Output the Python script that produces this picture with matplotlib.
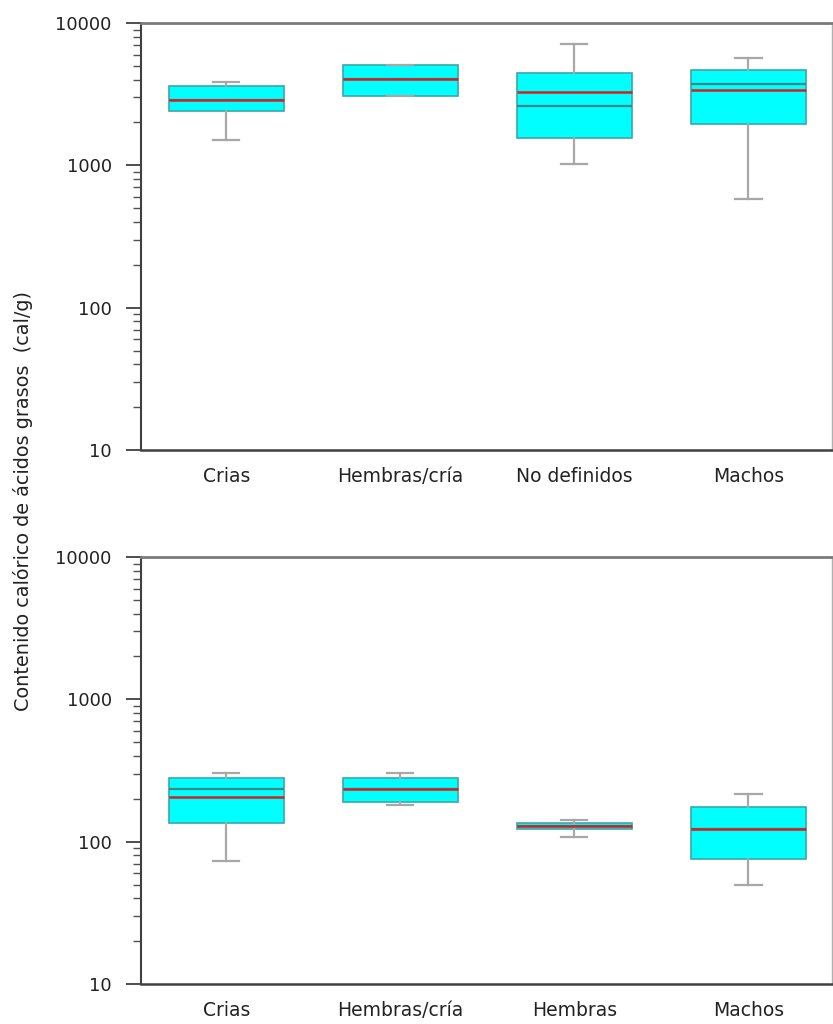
import matplotlib
matplotlib.use("Agg")
import matplotlib.pyplot as plt
from matplotlib.ticker import LogLocator, NullFormatter

plt.rcParams['font.family'] = ['DejaVu Sans']

# ---- data ----
cats_top = ["Crias", "Hembras/cría", "No definidos", "Machos"]
whislo_top = [1500, 3070, 1016, 577]
q1_top = [2420, 3070, 1548, 1940]
med_top = [2875, 4020, 2610, 3730]
mean_top = [2875, 4020, 3260, 3365]
q3_top = [3590, 5070, 4475, 4650]
whishi_top = [3870, 5070, 7080, 5680]

cats_bot = ["Crias", "Hembras/cría", "Hembras", "Machos"]
whislo_bot = [73.4, 181, 108, 49.8]
q1_bot = [135, 189, 122, 75.8]
med_bot = [234, 233, 129, 123]
mean_bot = [207, 233, 129, 123]
q3_bot = [279, 279, 136, 174]
whishi_bot = [305, 305, 141, 216]

yticks = [10, 100, 1000, 10000]
ytick_labels = ["10", "100", "1000", "10000"]
ylabel = "Contenido calórico de ácidos grasos  (cal/g)"

W, H = 833, 1024
fig = plt.figure(figsize=(W / 100, H / 100), dpi=100)

left, right = 141 / W, 832 / W
ax_top = fig.add_axes([left, 1 - 450 / H, right - left, (450 - 23) / H])
ax_bot = fig.add_axes([left, 1 - 984 / H, right - left, (984 - 557) / H])


def draw(ax, cats, wlo, q1, med, mean, q3, whi):
    stats = []
    for i in range(len(cats)):
        stats.append(dict(label=cats[i], whislo=wlo[i], q1=q1[i], med=med[i],
                          mean=mean[i], q3=q3[i], whishi=whi[i], fliers=[]))
    ax.bxp(stats, positions=range(1, len(cats) + 1), widths=0.66,
           patch_artist=True, showmeans=True, meanline=True, showfliers=False,
           boxprops=dict(facecolor='#00ffff', edgecolor='#3aa8a8', linewidth=1.2),
           medianprops=dict(color='#3f8585', linewidth=1.6),
           meanprops=dict(color='#d42020', linewidth=1.8, linestyle='-'),
           whiskerprops=dict(color='#a8a8a8', linewidth=1.6),
           capprops=dict(color='#a8a8a8', linewidth=1.6),
           capwidths=0.15)
    ax.set_yscale('log')
    ax.set_ylim(10, 10000)
    ax.set_xlim(0.51, 4.48)
    ax.set_yticks(yticks)
    ax.set_yticklabels(ytick_labels)
    ax.yaxis.set_minor_locator(LogLocator(base=10, subs=range(2, 10)))
    ax.yaxis.set_minor_formatter(NullFormatter())
    ax.tick_params(axis='y', which='major', length=11, width=1.3,
                   color='#404040', labelsize=13, pad=10, direction='out')
    ax.tick_params(axis='y', which='minor', length=5.5, width=1.0,
                   color='#505050', direction='out')
    ax.tick_params(axis='x', length=0, labelsize=13.5, pad=12)
    ax.set_xticks(range(1, len(cats) + 1))
    ax.set_xticklabels(cats)
    for lbl in ax.get_xticklabels() + ax.get_yticklabels():
        lbl.set_color('#222222')
    ax.spines['left'].set_color('#404040')
    ax.spines['left'].set_linewidth(1.5)
    ax.spines['bottom'].set_color('#404040')
    ax.spines['bottom'].set_linewidth(1.8)
    ax.spines['top'].set_color('#7a7a7a')
    ax.spines['top'].set_linewidth(2.0)
    ax.spines['right'].set_color('#b0b0b0')
    ax.spines['right'].set_linewidth(1.0)


draw(ax_top, cats_top, whislo_top, q1_top, med_top, mean_top, q3_top, whishi_top)
draw(ax_bot, cats_bot, whislo_bot, q1_bot, med_bot, mean_bot, q3_bot, whishi_bot)

fig.text(23 / W, 1 - 501 / H, ylabel, rotation=90, ha='center', va='center',
         fontsize=13.9, color='#222222')

fig.savefig("out.png", dpi=100)
